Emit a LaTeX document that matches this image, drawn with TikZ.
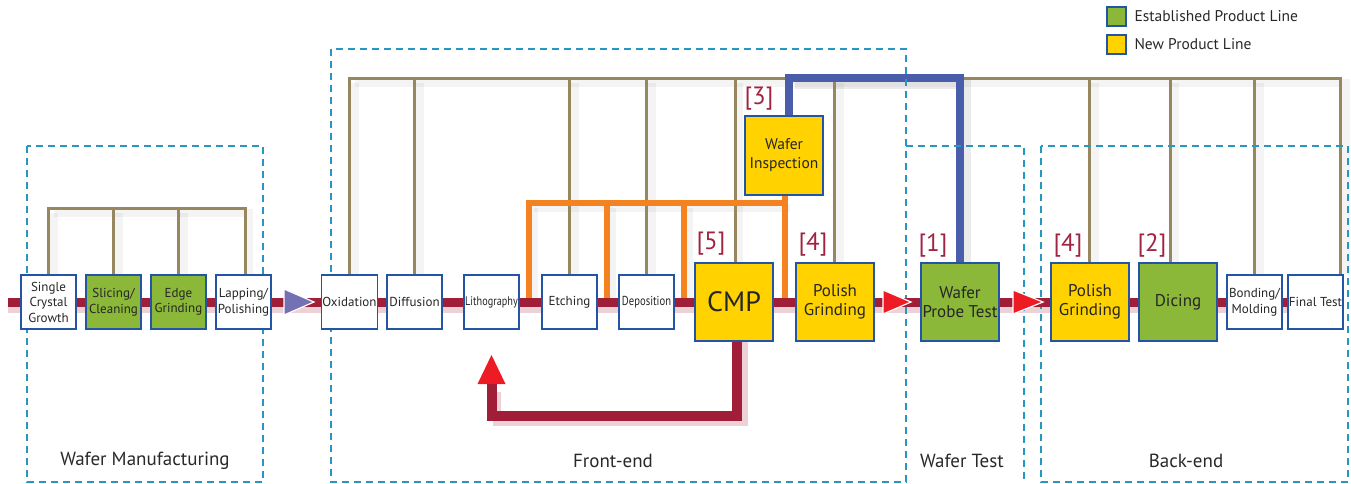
\documentclass[tikz,border=0pt]{standalone}
\usepackage{fontspec}
\setmainfont{PT Sans}
\newfontfamily\narrowpt[FakeStretch=0.82]{PT Sans}
\usetikzlibrary{backgrounds}
\definecolor{boxblue}{RGB}{35,85,165}
\definecolor{grn}{RGB}{139,184,56}
\definecolor{ylw}{RGB}{255,210,0}
\definecolor{tanc}{RGB}{150,135,95}
\definecolor{orc}{RGB}{245,130,32}
\definecolor{blc}{RGB}{74,93,171}
\definecolor{mainred}{RGB}{160,30,55}
\definecolor{arrred}{RGB}{237,28,36}
\definecolor{purp}{RGB}{116,112,180}
\definecolor{dashc}{RGB}{40,150,190}
\definecolor{lblc}{RGB}{160,35,65}
\definecolor{sectc}{RGB}{40,40,40}
\begin{document}
\begin{tikzpicture}[x=1pt,y=-1pt,
  sbox/.style={draw=boxblue, line width=1.6pt, fill=white, minimum width=55, minimum height=54, inner sep=1pt, align=center, text=black!85, font=\fontsize{13}{15.5}\selectfont},
  bbox/.style={draw=boxblue, line width=1.6pt, minimum width=78, minimum height=78, inner sep=1pt, align=center, text=black!85, font=\fontsize{17}{19}\selectfont},
  tanl/.style={draw=tanc, line width=3pt, line join=miter},
  orl/.style={draw=orc, line width=6pt, line join=miter},
  bll/.style={draw=blc, line width=8pt, line join=miter},
  mainl/.style={draw=mainred, line width=9pt},
  shd/.style={draw=black, draw opacity=0.045, line width=8pt, line join=miter},
  lbl/.style={text=lblc, font=\fontsize{25}{25}\selectfont},
  sect/.style={text=sectc, font=\fontsize{19}{20}\selectfont},
  dbox/.style={draw=dashc, line width=1.2pt, dash pattern=on 7pt off 5pt},
  leg/.style={draw=boxblue, line width=1.5pt, minimum width=19, minimum height=19, inner sep=0pt},
  legt/.style={text=sectc, anchor=west, font=\fontsize{15.5}{17}\selectfont}
]
\useasboundingbox (0,0) rectangle (1351,483);

% section frames
\draw[dbox] (27,146) rectangle (263,482);
\draw[dbox] (331,49) rectangle (906,482);
\draw[dbox] (906,146) -- (1024,146) -- (1024,482);
\draw[dbox] (1041,146) rectangle (1348,482);

% process boxes
\node[sbox] (scg) at (48.5,302) {Single\\Crystal\\Growth};
\node[sbox, fill=grn] (slc) at (113.5,302) {Slicing/\\Cleaning};
\node[sbox, fill=grn] (edg) at (178.5,302) {Edge\\Grinding};
\node[sbox] (lap) at (243.5,302) {Lapping/\\Polishing};
\node[sbox] (oxi) at (349.5,302) {Oxidation};
\node[sbox] (dif) at (414.5,302) {Diffusion};
\node[sbox, font=\narrowpt\fontsize{12.5}{14}\selectfont] (lit) at (491.5,302) {Lithography};
\node[sbox] (etc) at (569.5,302) {Etching};
\node[sbox, font=\narrowpt\fontsize{13}{14}\selectfont] (dep) at (646.5,302) {Deposition};
\node[bbox, fill=ylw, font=\fontsize{28}{30}\selectfont] (cmp) at (734,302) {CMP};
\node[bbox, fill=ylw] (pg1) at (835,302) {Polish\\Grinding};
\node[bbox, fill=grn] (wpt) at (960,302) {Wafer\\Probe Test};
\node[bbox, fill=ylw] (pg2) at (1090,302) {Polish\\Grinding};
\node[bbox, fill=grn] (dic) at (1178,302) {Dicing};
\node[sbox] (bon) at (1254.5,302) {Bonding/\\Molding};
\node[sbox] (fin) at (1315.5,302) {Final Test};
\node[bbox, fill=ylw, minimum height=79, font=\fontsize{15.5}{19}\selectfont] (wi) at (784,155.5) {Wafer\\Inspection};

\coordinate (wmt) at (0,208);
\coordinate (fet) at (0,78);
\coordinate (oh) at (0,203);
\coordinate (o1) at (529,302);
\coordinate (o2) at (607,302);
\coordinate (o3) at (684,302);
\coordinate (o4) at (785,302);
\coordinate (start) at (8,302);
\coordinate (fbtip) at (491.5,384);

\begin{scope}[on background layer]
  % shadows
  \draw[shd] ([shift={(5,5)}]scg.north |- wmt) -- ([shift={(5,5)}]lap.north |- wmt) -- ([xshift=5]lap.north);
  \draw[shd] ([shift={(5,5)}]scg.north |- wmt) -- ([xshift=5]scg.north);
  \draw[shd] ([shift={(5,5)}]slc.north |- wmt) -- ([xshift=5]slc.north);
  \draw[shd] ([shift={(5,5)}]edg.north |- wmt) -- ([xshift=5]edg.north);
  \draw[shd] ([shift={(5,5)}]oxi.north |- fet) -- ([shift={(30,5)}]fin.north |- fet) -- ([xshift=30]fin.north);
  \foreach \n in {oxi,dif,etc,dep,cmp,pg1,pg2,bon}
    \draw[shd] ([shift={(5,5)}]\n.north |- fet) -- ([xshift=5]\n.north);
  \draw[shd] ([shift={(-3,5)}]dic.north |- fet) -- ([xshift=-3]dic.north);
  \draw[shd] ([shift={(5,5)}]o1 |- oh) -- ([shift={(5,5)}]o4 |- oh);
  \foreach \c in {o1,o2,o3} \draw[shd] ([shift={(5,5)}]\c |- oh) -- ([xshift=5]\c);
  \draw[shd, line width=10pt, draw opacity=0.08] ([shift={(11,6)}]wi.north |- fet) -- ([shift={(6,6)}]wpt.north |- fet) -- ([xshift=6]wpt.north);
  \draw[draw=mainred!20, line width=6pt] (8,310) -- (1288,310);
  \draw[draw=mainred!20, line width=8pt] (744,341) -- (744,422) -- (497,422) -- (497,392);
  % tan connectors
  \draw[tanl] (scg.north) -- (scg.north |- wmt) -- ([xshift=1.5]lap.north |- wmt) -- ([xshift=1.5]lap.north);
  \draw[tanl] (slc.north) -- (slc.north |- wmt);
  \draw[tanl] (edg.north) -- (edg.north |- wmt);
  \draw[tanl] (oxi.north) -- (oxi.north |- fet) -- ([xshift=25]fin.north |- fet) -- ([xshift=25]fin.north);
  \foreach \n in {dif,etc,dep,bon} \draw[tanl] (\n.north) -- (\n.north |- fet);
  \draw[tanl] ([xshift=1]cmp.north) -- ([xshift=1]cmp.north |- fet);
  \draw[tanl] ([xshift=-1]pg1.north) -- ([xshift=-1]pg1.north |- fet);
  \draw[tanl] ([xshift=-1]pg2.north) -- ([xshift=-1]pg2.north |- fet);
  \draw[tanl] ([xshift=-8]dic.north) -- ([xshift=-8]dic.north |- fet);
  % orange connectors
  \draw[orl] (o1) -- (o1 |- oh) -- (o4 |- oh);
  \draw[orl] (o2) -- (o2 |- oh);
  \draw[orl] (o3) -- (o3 |- oh);
  \draw[orl] (o4 |- wi.south) -- (o4);
  % blue connector
  \draw[bll] ([xshift=5]wi.north) -- ([xshift=5]wi.north |- fet) -- (wpt.north |- fet) -- (wpt.north);
\end{scope}

% main flow line
\draw[mainl] (start) -- (scg.west);
\foreach \a/\b in {scg/slc, slc/edg, edg/lap, lap/oxi, oxi/dif, dif/lit, lit/etc, etc/dep, dep/cmp, cmp/pg1, pg1/wpt, wpt/pg2, pg2/dic, dic/bon, bon/fin}
  \draw[mainl] (\a.east) -- (\b.west);

% feedback loop
\draw[mainl, line width=10pt, line join=miter] ([xshift=3]cmp.south) -- ++(0,74) -| (fbtip);
\fill[arrred] (477.5,384) -- (505.5,384) -- (491.5,355) -- cycle;

% flow arrowheads
\filldraw[fill=purp, draw=white, line width=1.2pt] (284,289) -- (314,302) -- (284,315) -- cycle;
\filldraw[fill=arrred, draw=white, line width=1.2pt] (883,290) -- (911,302) -- (883,314) -- cycle;
\filldraw[fill=arrred, draw=white, line width=1.2pt] (1013,290) -- (1043,302) -- (1013,314) -- cycle;

% reference labels
\node[lbl] (l3) at (759,99) {[3]};
\node[lbl] (l5) at (711,244) {[5]};
\node[lbl] (l4a) at (813,244) {[4]};
\node[lbl] (l1) at (933,245) {[1]};
\node[lbl] (l4b) at (1068,245) {[4]};
\node[lbl] (l2) at (1152,245) {[2]};

% section labels
\node[sect] (swm) at (145,461) {Wafer Manufacturing};
\node[sect] (sfe) at (613,461) {Front-end};
\node[sect] (swt) at (962,461) {Wafer Test};
\node[sect] (sbe) at (1186,461) {Back-end};

% legend
\node[leg, fill=grn] (lg1) at (1116.5,16.5) {};
\node[leg, fill=ylw] (lg2) at (1116.5,44.5) {};
\node[legt] (lt1) at (1131,16.5) {Established Product Line};
\node[legt] (lt2) at (1131,44.5) {New Product Line};
\end{tikzpicture}
\end{document}
